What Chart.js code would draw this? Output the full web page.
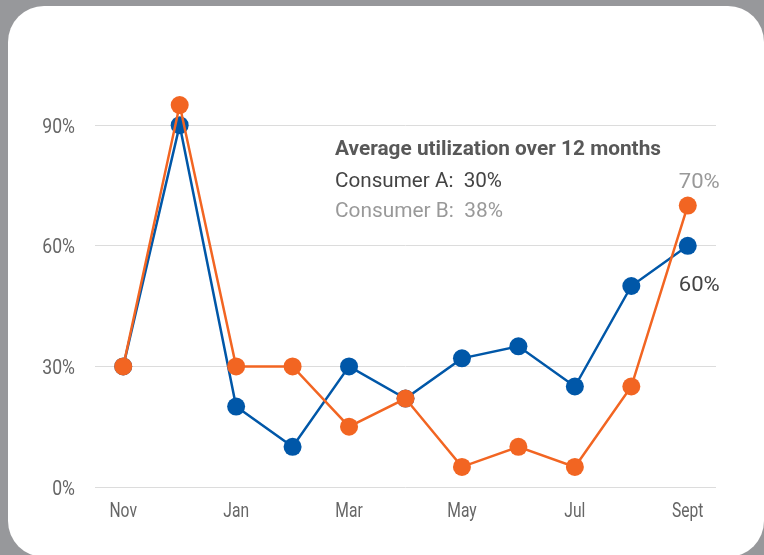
<!DOCTYPE html>
<html>
<head>
<meta charset="utf-8">
<script src="https://cdn.jsdelivr.net/npm/chart.js@4"></script>
<style>
  html, body { margin: 0; padding: 0; background: #97989b; overflow: hidden; }
  #card { position: absolute; left: 8px; top: 6px; width: 756px; height: 551px; background: #fff; border-radius: 36px; }
  #wrap { position: absolute; left: 0; top: 0; width: 764px; height: 555px; }
</style>
</head>
<body>
<div id="card"></div>
<div id="wrap"><canvas id="util"></canvas></div>
<script>
const months = ["Nov", "Dec", "Jan", "Feb", "Mar", "Apr", "May", "Jun", "Jul", "Aug", "Sept"];
const consumerA = [30, 90, 20, 10, 30, 22, 32, 35, 25, 50, 60];
const consumerB = [30, 95, 30, 30, 15, 22, 5, 10, 5, 25, 70];
const yTicks = [0, 30, 60, 90];
const avgA = 30;
const avgB = 38;

const FONT = "Roboto, 'Liberation Sans', sans-serif";
const blue = "#0057a8";
const orange = "#f26522";

// the original uses a condensed face, so squeeze text horizontally
function squeezed(ctx, txt, x, y, sx, align) {
  const w = ctx.measureText(txt).width * sx;
  let left = x;
  if (align === "center") left = x - w / 2;
  if (align === "right") left = x - w;
  ctx.save();
  ctx.translate(left, y);
  ctx.scale(sx, 1);
  ctx.textAlign = "left";
  ctx.fillText(txt, 0, 0);
  ctx.restore();
}

function fitText(ctx, txt, x, y, w) {
  squeezed(ctx, txt, x, y, w / ctx.measureText(txt).width, "left");
}

const notes = {
  id: "notes",
  afterDatasetsDraw(chart) {
    const ctx = chart.ctx;
    const x = chart.scales.x;
    const y = chart.scales.y;
    const last = months.length - 1;
    ctx.save();
    ctx.textBaseline = "alphabetic";

    // axis labels
    ctx.font = "20px " + FONT;
    ctx.fillStyle = "#666";
    yTicks.forEach(v => squeezed(ctx, v + "%", 75, y.getPixelForValue(v) + 7.5, 0.88, "right"));
    months.forEach((m, i) => {
      if (i % 2 === 0) squeezed(ctx, m, x.getPixelForValue(i), 517, 0.78, "center");
    });

    // annotation block
    ctx.font = "bold 21px " + FONT;
    ctx.fillStyle = "#585858";
    fitText(ctx, "Average utilization over 12 months", 335, 155, 326);
    ctx.font = "21px " + FONT;
    ctx.fillStyle = "#444";
    fitText(ctx, "Consumer A:  " + avgA + "%", 335, 187, 167);
    ctx.fillStyle = "#999";
    fitText(ctx, "Consumer B:  " + avgB + "%", 335, 217, 168);

    const lx = x.getPixelForValue(last) - 9;
    ctx.fillStyle = "#999";
    fitText(ctx, consumerB[last] + "%", lx, y.getPixelForValue(consumerB[last]) - 18, 41);
    ctx.fillStyle = "#444";
    fitText(ctx, consumerA[last] + "%", lx, y.getPixelForValue(consumerA[last]) + 45, 41);
    ctx.restore();
  }
};

new Chart(document.getElementById("util"), {
  type: "line",
  data: {
    labels: months,
    datasets: [
      {
        label: "Consumer B",
        data: consumerB,
        borderColor: orange,
        backgroundColor: orange,
        borderWidth: 2.5,
        pointRadius: 9,
        pointBorderWidth: 0,
        tension: 0
      },
      {
        label: "Consumer A",
        data: consumerA,
        borderColor: blue,
        backgroundColor: blue,
        borderWidth: 2.5,
        pointRadius: 9,
        pointBorderWidth: 0,
        tension: 0
      }
    ]
  },
  options: {
    responsive: true,
    maintainAspectRatio: false,
    animation: false,
    layout: { padding: { top: 85, right: 48, bottom: 0, left: 0 } },
    plugins: {
      legend: { display: false },
      tooltip: { enabled: false }
    },
    scales: {
      x: {
        offset: true,
        afterFit(scale) { scale.height = 68; },
        grid: { display: false, drawTicks: false },
        border: { display: false },
        ticks: {
          autoSkip: false,
          maxRotation: 0,
          color: "rgba(0,0,0,0)",
          font: { family: FONT, size: 16 },
          callback(v, i) { return i % 2 === 0 ? months[i] : ""; }
        }
      },
      y: {
        min: 0,
        max: 100,
        afterFit(scale) { scale.width = 95; },
        afterBuildTicks(scale) { scale.ticks = yTicks.map(v => ({ value: v })); },
        grid: { color: "#dcdcdc", lineWidth: 1, drawTicks: false },
        border: { display: false },
        ticks: {
          padding: 20,
          color: "rgba(0,0,0,0)",
          font: { family: FONT, size: 16 },
          callback(v) { return v + "%"; }
        }
      }
    }
  },
  plugins: [notes]
});
</script>
</body>
</html>
